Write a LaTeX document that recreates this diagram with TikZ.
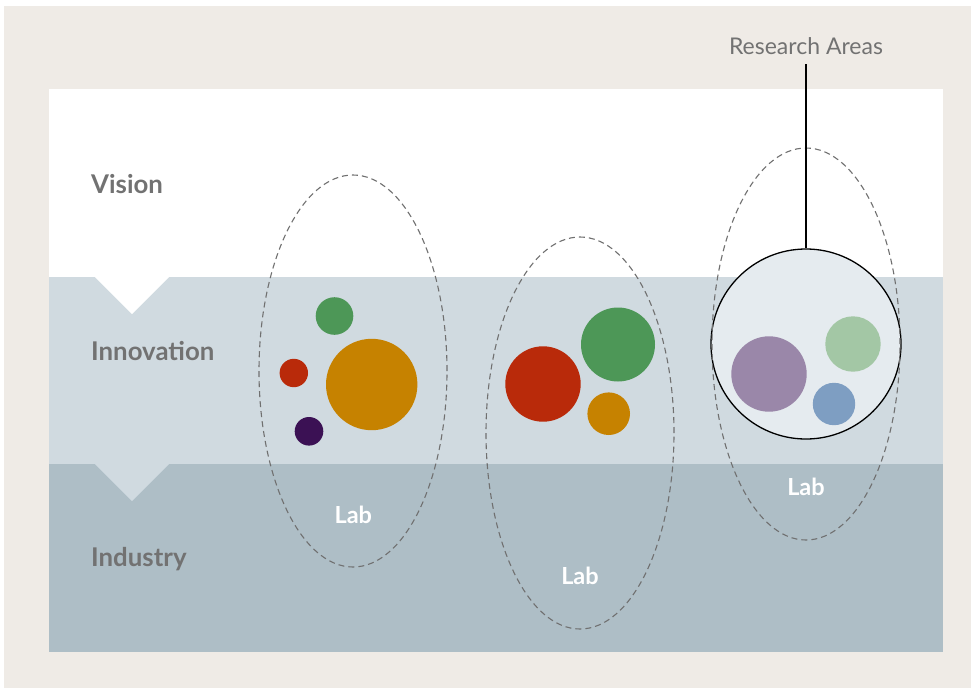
\documentclass[tikz,border=0pt]{standalone}
\usepackage{fontspec}
\setmainfont{Lato}
\usetikzlibrary{shapes.geometric}
\definecolor{beige}{HTML}{EFEBE6}
\definecolor{innov}{HTML}{D0DAE0}
\definecolor{indus}{HTML}{AEBEC6}
\definecolor{bigfill}{HTML}{E5EBEF}
\definecolor{txtgray}{HTML}{727272}
\definecolor{dashgray}{HTML}{707070}
\definecolor{cgreen}{HTML}{4D9757}
\definecolor{cred}{HTML}{B92A0A}
\definecolor{corange}{HTML}{C68200}
\definecolor{cdpurple}{HTML}{3B1154}
\definecolor{cpurple}{HTML}{9A87A9}
\definecolor{clgreen}{HTML}{A3C7A5}
\definecolor{cblue}{HTML}{7E9EC2}
\tikzset{
  bandlabel/.style={anchor=base west, inner sep=0pt, text=txtgray, font=\fontsize{25.8}{30}\selectfont\bfseries},
  lablabel/.style={anchor=base, inner sep=0pt, text=white, font=\fontsize{23.5}{28}\selectfont\bfseries},
  labellipse/.style={draw=dashgray, line width=1.1pt, dash pattern=on 6pt off 4pt, ellipse, inner sep=0pt, minimum width=188pt, minimum height=392pt},
  dot/.style={circle, inner sep=0pt, draw=none, minimum size=#1},
}
\begin{document}
\begin{tikzpicture}[x=1pt,y=-1pt]
\useasboundingbox (0,0) rectangle (971,688);
\fill[white] (0,0) rectangle (971,688);
\fill[beige] (4,6) rectangle (971,688);
% bands
\fill[white] (49,89) rectangle (943,277);
\fill[innov] (49,277) rectangle (943,464);
\fill[indus] (49,464) rectangle (943,652);
\fill[white] (95,277) -- (169,277) -- (132,314) -- cycle;
\fill[innov] (95,464) -- (169,464) -- (132,501) -- cycle;
% band labels
\node[bandlabel] (vision) at (91,193.3) {Vision};
\node[bandlabel] (innovation) at (91,360) {Innovation};
\node[bandlabel] (industry) at (91,566.7) {Industry};
% lab 1 circles
\node[dot=37.6pt, fill=cgreen] (g1) at (334.5,316) {};
\node[dot=28.4pt, fill=cred] (r1) at (293.8,373) {};
\node[dot=91.4pt, fill=corange] (o1) at (371.7,384.5) {};
\node[dot=28.6pt, fill=cdpurple] (p1) at (309,431.3) {};
% lab 2 circles
\node[dot=75.4pt, fill=cred] (r2) at (543,384) {};
\node[dot=74pt, fill=cgreen] (g2) at (618,344.5) {};
\node[dot=42.6pt, fill=corange] (o2) at (608.7,413.7) {};
% research areas circle
\node[dot=190pt, fill=bigfill, draw=black, line width=1.3pt] (big) at (806,344) {};
\node[dot=75.4pt, fill=cpurple] (p3) at (769,374) {};
\node[dot=55.4pt, fill=clgreen] (g3) at (853,344) {};
\node[dot=42.4pt, fill=cblue] (b3) at (834,404) {};
% ellipses
\node[labellipse] (lab1) at (353,371) {};
\node[labellipse] (lab2) at (580,433) {};
\node[labellipse] (lab3) at (806,344) {};
\node[lablabel] (lab1t) at (353.3,523.3) {Lab};
\node[lablabel] (lab2t) at (580,584.3) {Lab};
\node[lablabel] (lab3t) at (806,495.7) {Lab};
% research areas label
\node[anchor=base, inner sep=0pt, text=txtgray, font=\fontsize{23}{27}\selectfont] (ra) at (806,54.3) {Research Areas};
\coordinate (raend) at (806,64.3);
\draw[black, line width=1.2pt] (raend) -- (big.north);
\end{tikzpicture}
\end{document}
